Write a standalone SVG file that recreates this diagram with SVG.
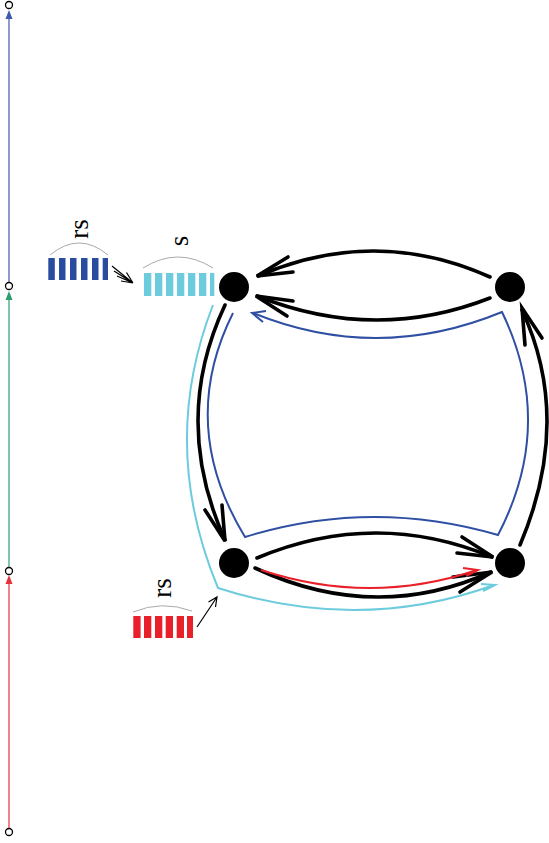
<svg xmlns="http://www.w3.org/2000/svg" width="549" height="843" viewBox="0 0 549 843">
<style>
.bk{fill:none;stroke:#000;stroke-width:3.6;stroke-linecap:round;stroke-linejoin:miter}
.bl{fill:none;stroke:#2f4fa3;stroke-width:2}
.cy{fill:none;stroke:#6ccbdc;stroke-width:2}
.rd{fill:none;stroke:#e8202a;stroke-width:2}
.thin{fill:none;stroke:#000;stroke-width:1.2}
.arc{fill:none;stroke:#aaa;stroke-width:1}
.node{fill:#000}
.tick{fill:#fff;stroke:#000;stroke-width:1.3}
.lbl{font-family:"Liberation Serif",serif;font-size:27px;fill:#000;text-anchor:middle}
</style>
<g id="axis">
<line x1="9" y1="282" x2="9" y2="14" stroke="#3f5aab" stroke-width="1.2"/>
<polygon points="9,10 5.5,19 12.5,19" fill="#3f5aab"/>
<line x1="9" y1="567" x2="9" y2="296" stroke="#2e9e6e" stroke-width="1.2"/>
<polygon points="9,291 5.5,300 12.5,300" fill="#2e9e6e"/>
<line x1="9" y1="828" x2="9" y2="580" stroke="#e8303f" stroke-width="1.2"/>
<polygon points="9,575 5.5,584 12.5,584" fill="#e8303f"/>
<circle class="tick" cx="9" cy="5" r="3.5"/>
<circle class="tick" cx="9" cy="286" r="3.5"/>
<circle class="tick" cx="9" cy="571" r="3.5"/>
<circle class="tick" cx="9" cy="832" r="3.5"/>
</g>
<g id="connectors">
<path class="bk" d="M490,277 Q375,225.5 258,276"/>
<path class="bk" d="M288,257 L257,276 L293,272"/>
<path class="bk" d="M490,298 Q375,343 257,296"/>
<path class="bk" d="M293,301 L256,296 L287,316"/>
<path class="bk" d="M225,305 Q171,420 225,540"/>
<path class="bk" d="M205,510 L225,541 L222,505"/>
<path class="bk" d="M257,558 Q375,508.5 492,557"/>
<path class="bk" d="M462,537 L493,557 L457,553"/>
<path class="bk" d="M255,568 Q375,624 491,572"/>
<path class="bk" d="M453,577 L492,572 L460,592"/>
<path class="bk" d="M520,545 Q573,420 522,310"/>
<path class="bk" d="M525,345 L522,308 L542,338"/>
<path class="rd" d="M261,570 Q370,606 477,570"/>
<path class="rd" d="M463,568 L478,570 L466,576"/>
<path class="bl" d="M233,313 Q177,425 245,537 Q371,498 498,535 Q556,424 502,312 Q377,363.5 253,313"/>
<path class="bl" d="M266,311 L252,313 L263,322"/>
<path class="cy" d="M213,305 Q158.5,445 218,588 Q360,633.5 494,585"/>
<path class="cy" d="M481,584 L495,585 L483,591"/>
<path class="thin" d="M197,627 L217,597 M208.5,602 L217,597 L215.5,607"/>
<path class="thin" d="M112,266 L133,283 M114,271 L133,283 M117,276 L133,283 M121,281 L133,283 M126.5,272.5 L133,283"/>
</g>
<g id="bar-rs-blue">
<g fill="#2a4c9e">
<rect x="48.3" y="258" width="6.5" height="22"/>
<rect x="59" y="258" width="6.5" height="22"/>
<rect x="70" y="258" width="6.5" height="22"/>
<rect x="81" y="258" width="6.5" height="22"/>
<rect x="92" y="258" width="6.5" height="22"/>
<rect x="102.7" y="258" width="5.3" height="22"/>
</g>
<path class="arc" d="M50,255 Q79,231 108,255"/>
<text class="lbl" transform="translate(88,229) rotate(-90)">rs</text>
</g>
<g id="bar-s-cyan">
<g fill="#6ccbdc">
<rect x="144" y="273" width="7.3" height="23"/>
<rect x="155" y="273" width="7.3" height="23"/>
<rect x="166" y="273" width="7.3" height="23"/>
<rect x="177" y="273" width="7.3" height="23"/>
<rect x="188" y="273" width="7.3" height="23"/>
<rect x="199" y="273" width="7.3" height="23"/>
<rect x="210" y="273" width="4.3" height="23"/>
</g>
<path class="arc" d="M143,268 Q178,246 213,268"/>
<text class="lbl" transform="translate(188,241) rotate(-90)">s</text>
</g>
<g id="bar-rs-red">
<g fill="#e8202a">
<rect x="133.3" y="616" width="7.3" height="22"/>
<rect x="144" y="616" width="7.3" height="22"/>
<rect x="155" y="616" width="7.3" height="22"/>
<rect x="165.7" y="616" width="7.3" height="22"/>
<rect x="176.7" y="616" width="7.3" height="22"/>
<rect x="187" y="616" width="6" height="22"/>
</g>
<path class="arc" d="M133,612 Q162,600 192,611"/>
<text class="lbl" transform="translate(171,588) rotate(-90)">rs</text>
</g>
<g id="node-tl"><circle class="node" cx="234" cy="287" r="15"/></g>
<g id="node-tr"><circle class="node" cx="510" cy="287" r="15"/></g>
<g id="node-bl"><circle class="node" cx="234" cy="563" r="15"/></g>
<g id="node-br"><circle class="node" cx="510" cy="563" r="15"/></g>
</svg>
